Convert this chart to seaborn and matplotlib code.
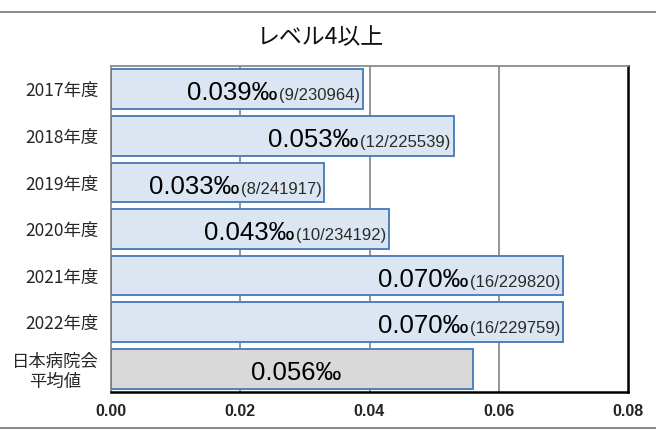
import matplotlib
matplotlib.use("Agg")
import matplotlib.pyplot as plt
from matplotlib.lines import Line2D
import seaborn as sns
import pandas as pd

# Incident rate (per mille) of level 4+ reports by fiscal year
categories = ["2017年度", "2018年度", "2019年度", "2020年度", "2021年度", "2022年度", "日本病院会\n平均値"]
rates = [0.039, 0.053, 0.033, 0.043, 0.070, 0.070, 0.056]
counts = ["(9/230964)", "(12/225539)", "(8/241917)", "(10/234192)", "(16/229820)", "(16/229759)", ""]
x_ticks = [0.00, 0.02, 0.04, 0.06, 0.08]
title = "レベル4以上"

sns.set_theme(style="white")
plt.rcParams["font.family"] = ["Liberation Sans", "Noto Sans CJK JP", "DejaVu Sans"]

df = pd.DataFrame({"label": categories, "rate": rates, "count": counts})
fills = ["#dce6f2"] * 6 + ["#d9d9d9"]
palette = dict(zip(categories, fills))

dpi = 100
fig = plt.figure(figsize=(6.56, 4.30), dpi=dpi)
W, H = 656, 430
ax = fig.add_axes([111 / W, 1 - 392 / H, (628 - 111) / W, (392 - 66) / H])

sns.barplot(data=df, y="label", x="rate", hue="label", palette=palette,
            saturation=1, orient="h", width=0.85, edgecolor="#4f81bd",
            linewidth=1.4, legend=False, ax=ax, zorder=3)

ax.set_xlim(0, 0.08)
ax.set_xticks(x_ticks)
ax.set_xticklabels([f"{t:.2f}" for t in x_ticks], fontsize=11.5, fontweight="bold")
ax.set_xlabel("")
ax.set_ylabel("")
ax.tick_params(axis="both", length=0)
ax.tick_params(axis="x", pad=9)
ax.tick_params(axis="y", pad=9)
for lab in ax.get_yticklabels():
    lab.set_fontfamily(["Noto Sans CJK JP", "DejaVu Sans"])
    lab.set_fontsize(12.5)
    lab.set_multialignment("center")
    lab.set_linespacing(1.15)

# vertical gridlines behind the bars
ax.grid(False)
for t in x_ticks[1:-1]:
    ax.axvline(t, color="#8c8c8c", lw=1.3, zorder=1)

for side in ["left", "top"]:
    ax.spines[side].set_color("#8c8c8c")
    ax.spines[side].set_linewidth(1.3)
for side in ["right", "bottom"]:
    ax.spines[side].set_color("#000000")
    ax.spines[side].set_linewidth(1.8)

# value labels: rate in large type, counts in smaller type
fig.canvas.draw()
renderer = fig.canvas.get_renderer()
for i, (v, c) in enumerate(zip(rates, counts)):
    rate_txt = f"{v:.3f}‰"
    if c:
        small = ax.annotate(c, xy=(v, i), xytext=(-2, -8), textcoords="offset points",
                            ha="right", va="baseline", fontsize=12, color="#2a2a2a", zorder=5)
        w = small.get_window_extent(renderer).width * 72 / dpi
        ax.annotate(rate_txt, xy=(v, i), xytext=(-3 - w, -8), textcoords="offset points",
                    ha="right", va="baseline", fontsize=18.5, color="#000000", zorder=5)
    else:
        ax.annotate(rate_txt, xy=(v / 2, i), xytext=(3, -8), textcoords="offset points",
                    ha="center", va="baseline", fontsize=18.5, color="#000000", zorder=5)

fig.text(320 / W, 1 - 38 / H, title, ha="center", va="center", fontsize=16.5,
         family=["Noto Sans CJK JP", "DejaVu Sans"], color="#111111")

# horizontal frame lines above and below the chart
for yp in (12, 428):
    fig.add_artist(Line2D([0, 1], [1 - yp / H] * 2, transform=fig.transFigure,
                          color="#8c8c8c", lw=1.5))

fig.savefig("out.png", dpi=dpi)
